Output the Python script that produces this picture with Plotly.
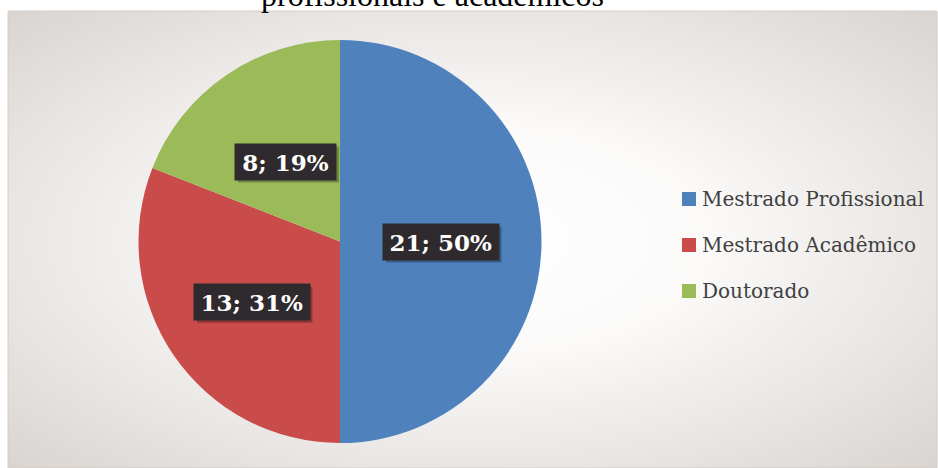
import base64
import math
import plotly.graph_objects as go

# Data
categories = ["Mestrado Profissional", "Mestrado Acadêmico", "Doutorado"]
counts = [21, 13, 8]
slice_colors = ["#4F81BD", "#C94C4A", "#9BBB59"]
title_text = "profissionais e acadêmicos"

W, H = 938, 468


def px(x):
    return x / W


def py(y):
    return 1 - y / H


# Chart area frame (pixels)
area_x0, area_y0, area_x1, area_y1 = 8, 11, 937, 468

# Pie geometry (pixels)
cx, cy, R = 340, 241.5, 201.5

total = sum(counts)
pcts = [round(v / total * 100) for v in counts]
label_texts = [f"{v}; {p}%" for v, p in zip(counts, pcts)]

fig = go.Figure(
    go.Pie(
        labels=categories,
        values=counts,
        sort=False,
        direction="clockwise",
        rotation=0,
        marker=dict(colors=slice_colors, line=dict(width=0)),
        textinfo="none",
        hoverinfo="label+value+percent",
        showlegend=False,
        domain=dict(
            x=[px(cx - R), px(cx + R)],
            y=[py(cy + R), py(cy - R)],
        ),
    )
)

# Soft radial background of the chart area
bg_svg = f"""<svg xmlns='http://www.w3.org/2000/svg' width='{area_x1-area_x0}' height='{area_y1-area_y0}' preserveAspectRatio='none'>
<defs><radialGradient id='g' cx='0.5' cy='0.5' r='0.72'>
<stop offset='0' stop-color='#ffffff'/>
<stop offset='0.35' stop-color='#fbfaf9'/>
<stop offset='1' stop-color='#d8d3cf'/>
</radialGradient></defs>
<rect width='100%' height='100%' fill='url(#g)'/>
</svg>"""
bg_uri = "data:image/svg+xml;base64," + base64.b64encode(bg_svg.encode()).decode()

images = [
    dict(
        source=bg_uri,
        xref="paper", yref="paper",
        x=px(area_x0), y=py(area_y0),
        sizex=px(area_x1) - px(area_x0),
        sizey=py(area_y0) - py(area_y1),
        xanchor="left", yanchor="top",
        sizing="stretch", layer="below",
    )
]

shapes = [
    dict(
        type="rect", xref="paper", yref="paper",
        x0=px(area_x0), x1=px(area_x1), y0=py(area_y1), y1=py(area_y0),
        line=dict(color="#d2cdc9", width=1), fillcolor="rgba(0,0,0,0)",
        layer="below",
    )
]
annotations = []

# Data labels in dark boxes with a drop shadow
label_radius = [0.5, 0.53, 0.48]
box_h = 36
cum = 0
for v, txt, fr in zip(counts, label_texts, label_radius):
    theta = 2 * math.pi * (cum + v / 2) / total
    cum += v
    lx = cx + fr * R * math.sin(theta)
    ly = cy - fr * R * math.cos(theta)
    bw = 14.5 * len(txt) + 14
    shapes.append(
        dict(
            type="rect", xref="paper", yref="paper",
            x0=px(lx - bw / 2 + 3), x1=px(lx + bw / 2 + 3),
            y0=py(ly + box_h / 2 + 3), y1=py(ly - box_h / 2 + 3),
            line=dict(width=0), fillcolor="rgba(0,0,0,0.28)",
            layer="above",
        )
    )
    annotations.append(
        dict(
            x=px(lx), y=py(ly), xref="paper", yref="paper",
            text=f"<b>{txt}</b>", showarrow=False,
            width=bw, height=box_h, borderpad=0,
            bgcolor="#2f2a2d",
            font=dict(family="DejaVu Serif", size=23, color="#ffffff"),
            xanchor="center", yanchor="middle", align="center", valign="middle",
        )
    )

# Legend
leg_x = 682
leg_rows = [199, 245, 291]
sq = 14
for name, col, ry in zip(categories, slice_colors, leg_rows):
    shapes.append(
        dict(
            type="rect", xref="paper", yref="paper",
            x0=px(leg_x), x1=px(leg_x + sq),
            y0=py(ry + sq / 2), y1=py(ry - sq / 2),
            line=dict(width=0), fillcolor=col,
        )
    )
    annotations.append(
        dict(
            x=px(leg_x + sq + 4), y=py(ry), xref="paper", yref="paper",
            text=name, showarrow=False,
            font=dict(family="DejaVu Serif", size=20, color="#404040"),
            xanchor="left", yanchor="middle",
        )
    )

# Title line
annotations.append(
    dict(
        x=px(432.5), y=py(14.5), xref="paper", yref="paper",
        text=title_text, showarrow=False, borderpad=0,
        font=dict(family="Liberation Serif", size=32, color="#000000"),
        xanchor="center", yanchor="bottom",
    )
)

fig.update_layout(
    width=W, height=H,
    margin=dict(l=0, r=0, t=0, b=0),
    paper_bgcolor="#ffffff",
    plot_bgcolor="rgba(0,0,0,0)",
    images=images,
    shapes=shapes,
    annotations=annotations,
    showlegend=False,
)

fig.write_html("out.html")
